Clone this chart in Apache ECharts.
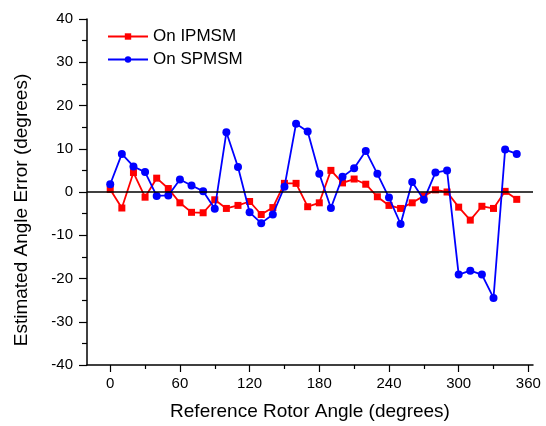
<!DOCTYPE html>
<html>
<head>
<meta charset="utf-8">
<script src="https://cdn.jsdelivr.net/npm/echarts@6/dist/echarts.min.js"></script>
<style>
  html, body { margin: 0; padding: 0; background: #fff; }
  #chart { width: 546px; height: 426px; }
</style>
</head>
<body>
<div id="chart"></div>
<script>
// Rotor angle samples (degrees)
const angles = [0, 10, 20, 30, 40, 50, 60, 70, 80, 90, 100, 110,
  120, 130, 140, 150, 160, 170, 180, 190, 200, 210, 220, 230,
  240, 250, 260, 270, 280, 290, 300, 310, 320, 330, 340, 350];

// Estimated angle error on the interior PM machine (degrees)
const ipmsm = [0.6, -3.7, 4.5, -1.2, 3.2, 0.8, -2.5, -4.7, -4.8, -1.8, -3.8, -3.1,
  -2.2, -5.2, -3.6, 2.0, 2.0, -3.4, -2.5, 5.0, 2.1, 3.0, 1.8, -1.1,
  -3.1, -3.8, -2.5, -0.9, 0.5, 0.0, -3.5, -6.5, -3.3, -3.8, 0.15, -1.7];

// Estimated angle error on the surface PM machine (degrees)
const spmsm = [1.8, 8.8, 5.9, 4.6, -0.9, -0.8, 2.9, 1.5, 0.2, -3.9, 13.8, 5.8,
  -4.7, -7.2, -5.2, 1.2, 15.8, 14.0, 4.2, -3.7, 3.5, 5.5, 9.5, 4.2,
  -1.3, -7.4, 2.3, -1.8, 4.5, 5.0, -19.1, -18.2, -19.1, -24.5, 9.8, 8.8];

// Axis tick positions
const xMajorTicks = [0, 60, 120, 180, 240, 300, 360];
const xMinorTicks = [30, 90, 150, 210, 270, 330];

const yTitle = 'Estimated Angle Error (degrees)';
const xTitle = 'Reference Rotor Angle (degrees)';

const FONT = '"Liberation Sans", Arial, sans-serif';
const pair = (ys) => angles.map((a, i) => [a, ys[i]]);

const chart = echarts.init(document.getElementById('chart'), null, { renderer: 'canvas' });

chart.setOption({
  animation: false,
  backgroundColor: '#ffffff',
  grid: { left: 87, right: 13, top: 19, bottom: 61, containLabel: false },
  legend: {
    orient: 'vertical',
    left: 102,
    top: 23,
    itemWidth: 40,
    itemHeight: 8,
    itemGap: 6,
    textStyle: { fontFamily: FONT, fontSize: 17, color: '#000' },
    data: ['On IPMSM', 'On SPMSM']
  },
  graphic: [
    {
      type: 'text',
      x: 22,
      y: 210,
      rotation: Math.PI / 2,
      style: {
        text: yTitle,
        fontFamily: FONT,
        fontSize: 19,
        fill: '#000',
        align: 'center',
        verticalAlign: 'middle'
      }
    }
  ],
  xAxis: [
    {
      type: 'value',
      min: -20,
      max: 364,
      name: xTitle,
      nameLocation: 'middle',
      nameGap: 37,
      nameTextStyle: { fontFamily: FONT, fontSize: 19, color: '#000' },
      axisLine: { onZero: false, lineStyle: { color: '#000', width: 1.5 } },
      axisTick: { show: true, length: 7, lineStyle: { color: '#000', width: 1.2 }, customValues: xMajorTicks },
      axisLabel: { fontFamily: FONT, fontSize: 15, color: '#000', margin: 11, customValues: xMajorTicks },
      splitLine: { show: false }
    },
    {
      type: 'value',
      min: -20,
      max: 364,
      position: 'bottom',
      axisLine: { show: false, onZero: false },
      axisTick: { show: true, length: 4, lineStyle: { color: '#000', width: 1.2 }, customValues: xMinorTicks },
      axisLabel: { show: false },
      splitLine: { show: false }
    }
  ],
  yAxis: {
    type: 'value',
    min: -40,
    max: 40,
    interval: 10,
    axisLine: { show: true, onZero: false, lineStyle: { color: '#000', width: 1.5 } },
    axisTick: { show: true, length: 8, lineStyle: { color: '#000', width: 1.2 } },
    minorTick: { show: true, splitNumber: 2, length: 5, lineStyle: { color: '#000', width: 1.2 } },
    axisLabel: { fontFamily: FONT, fontSize: 15, color: '#000', margin: 14 },
    splitLine: { show: false }
  },
  series: [
    {
      name: 'On IPMSM',
      type: 'line',
      data: pair(ipmsm),
      symbol: 'rect',
      symbolSize: 7,
      showAllSymbol: true,
      color: '#ff0000',
      lineStyle: { color: '#ff0000', width: 1.8 },
      itemStyle: { color: '#ff0000' },
      z: 3,
      markLine: {
        silent: true,
        symbol: ['none', 'none'],
        label: { show: false },
        lineStyle: { color: '#000', width: 1.5, type: 'solid' },
        data: [{ yAxis: 0 }]
      }
    },
    {
      name: 'On SPMSM',
      type: 'line',
      data: pair(spmsm),
      symbol: 'circle',
      symbolSize: 8,
      showAllSymbol: true,
      color: '#0000ff',
      lineStyle: { color: '#0000ff', width: 1.8 },
      itemStyle: { color: '#0000ff' },
      z: 4
    }
  ]
});
</script>
</body>
</html>
